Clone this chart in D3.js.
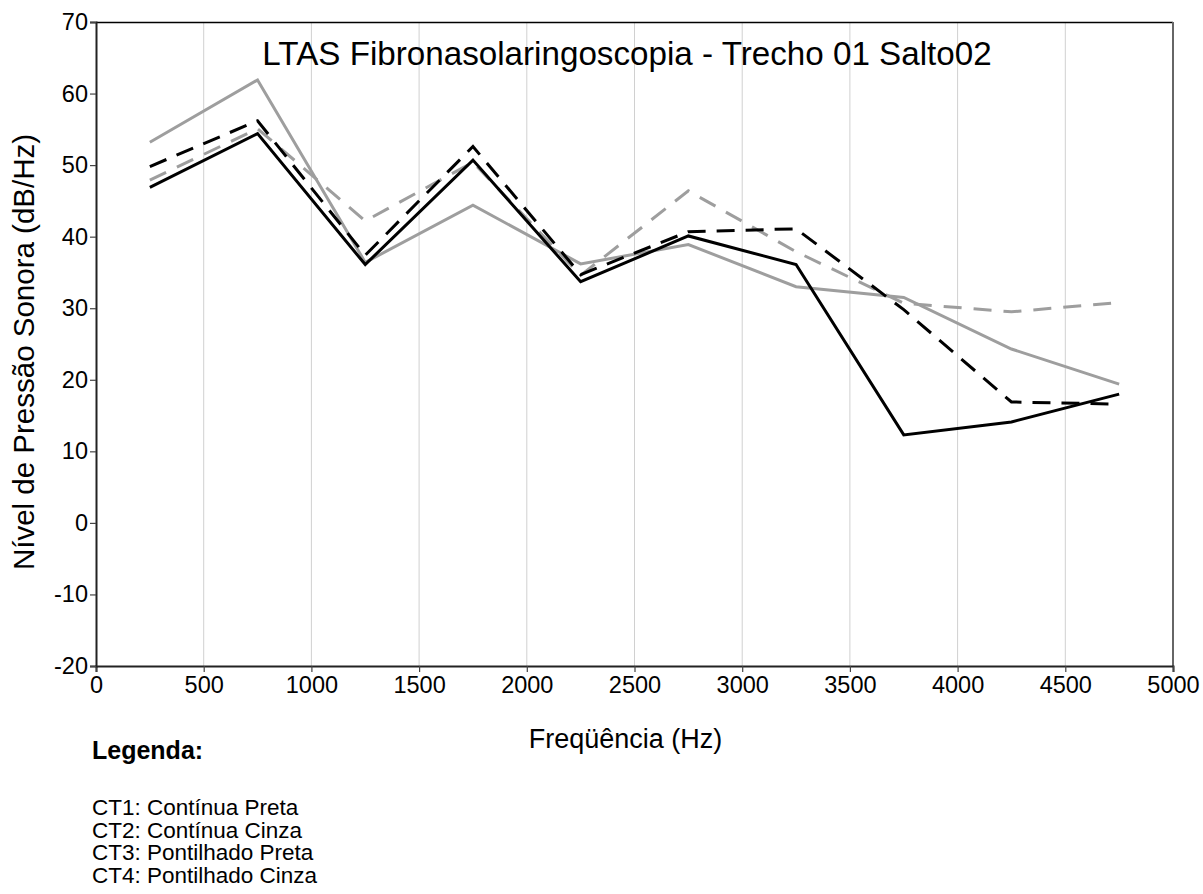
<!DOCTYPE html>
<html>
<head>
<meta charset="utf-8">
<script src="https://cdn.jsdelivr.net/npm/d3@7"></script>
<style>
  html, body { margin: 0; padding: 0; background: #fff; }
  svg { display: block; font-family: "Liberation Sans", Arial, sans-serif; }
</style>
</head>
<body>
<svg id="chart" width="1203" height="894"></svg>
<script>
// Frequency bands (Hz), centre of each 500 Hz band
const frequencies = [250, 750, 1250, 1750, 2250, 2750, 3250, 3750, 4250, 4750];

// LTAS levels (dB/Hz) per recording
const ct1 = [46.9, 54.4, 36.1, 50.7, 33.7, 40.1, 36.1, 12.3, 14.1, 18.0];
const ct2 = [53.2, 61.9, 36.4, 44.4, 36.2, 38.9, 33.0, 31.5, 24.3, 19.4];
const ct3 = [49.8, 56.2, 37.4, 52.6, 34.7, 40.7, 41.1, 29.8, 16.9, 16.6];
const ct4 = [47.9, 55.1, 42.2, 50.4, 34.6, 46.4, 37.9, 30.7, 29.5, 30.8];

const xTicks = [0, 500, 1000, 1500, 2000, 2500, 3000, 3500, 4000, 4500, 5000];
const yTicks = [-20, -10, 0, 10, 20, 30, 40, 50, 60, 70];

const titleText = "LTAS Fibronasolaringoscopia - Trecho 01 Salto02";
const xLabel = "Freqüência (Hz)";
const yLabel = "Nível de Pressão Sonora (dB/Hz)";
const legendTitle = "Legenda:";
const legendItems = [
  "CT1: Contínua Preta",
  "CT2: Contínua Cinza",
  "CT3: Pontilhado Preta",
  "CT4: Pontilhado Cinza"
];

const series = [
  { values: ct2, color: "#9e9e9e", dash: null },
  { values: ct4, color: "#9e9e9e", dash: "18,12" },
  { values: ct1, color: "#000000", dash: null },
  { values: ct3, color: "#000000", dash: "18,11" }
];

const svg = d3.select("#chart");
const plot = { left: 96, right: 1173, top: 22, bottom: 666 };

const x = d3.scaleLinear().domain([0, 5000]).range([plot.left, plot.right]);
const y = d3.scaleLinear().domain([-20, 70]).range([plot.bottom, plot.top]);

svg.append("rect").attr("width", 1203).attr("height", 894).attr("fill", "#fff");

// vertical grid lines
svg.append("g")
  .selectAll("line")
  .data(xTicks.filter(t => t > 0 && t < 5000))
  .join("line")
  .attr("x1", d => x(d)).attr("x2", d => x(d))
  .attr("y1", plot.top).attr("y2", plot.bottom)
  .attr("stroke", "#d0d0d0").attr("stroke-width", 1);

// frame: top and right edges
svg.append("line")
  .attr("x1", plot.left).attr("x2", plot.right)
  .attr("y1", plot.top + 0.5).attr("y2", plot.top + 0.5)
  .attr("stroke", "#000").attr("stroke-width", 1.5);
svg.append("line")
  .attr("x1", plot.right).attr("x2", plot.right)
  .attr("y1", plot.top).attr("y2", plot.bottom)
  .attr("stroke", "#666").attr("stroke-width", 2);

// axes (plain hyphen for negative numbers)
const fmt = d => String(d);
const xAxis = svg.append("g")
  .attr("transform", `translate(0,${plot.bottom})`)
  .call(d3.axisBottom(x).tickValues(xTicks).tickFormat(fmt).tickSize(6).tickPadding(4));
const yAxis = svg.append("g")
  .attr("transform", `translate(${plot.left},0)`)
  .call(d3.axisLeft(y).tickValues(yTicks).tickFormat(fmt).tickSize(6).tickPadding(2));

[xAxis, yAxis].forEach(g => {
  g.select(".domain").attr("stroke", "#222").attr("stroke-width", 2);
  g.selectAll(".tick line").attr("stroke", "#444").attr("stroke-width", 1.2);
  g.selectAll(".tick text")
    .attr("fill", "#000")
    .style("font-size", "23.5px")
    .style("font-family", "'Liberation Sans', Arial, sans-serif");
});

// series lines
const line = d3.line()
  .x((d, i) => x(frequencies[i]))
  .y(d => y(d));

svg.append("g")
  .selectAll("path")
  .data(series)
  .join("path")
  .attr("d", d => line(d.values))
  .attr("fill", "none")
  .attr("stroke", d => d.color)
  .attr("stroke-width", 3)
  .attr("stroke-linejoin", "miter")
  .attr("stroke-dasharray", d => d.dash);

// title
svg.append("text")
  .attr("x", 627).attr("y", 65)
  .attr("text-anchor", "middle")
  .style("font-size", "33.2px")
  .text(titleText);

// axis titles
svg.append("text")
  .attr("x", (plot.left + plot.right) / 2 - 9).attr("y", 748)
  .attr("text-anchor", "middle")
  .style("font-size", "27px")
  .text(xLabel);

svg.append("text")
  .attr("transform", `translate(34,352) rotate(-90)`)
  .attr("text-anchor", "middle")
  .style("font-size", "29.5px")
  .text(yLabel);

// legend
svg.append("text")
  .attr("x", 92).attr("y", 759)
  .style("font-size", "25px")
  .style("font-weight", "bold")
  .text(legendTitle);

svg.append("g")
  .selectAll("text")
  .data(legendItems)
  .join("text")
  .attr("x", 92)
  .attr("y", (d, i) => 815 + i * 22.7)
  .style("font-size", "22.5px")
  .text(d => d);
</script>
</body>
</html>
